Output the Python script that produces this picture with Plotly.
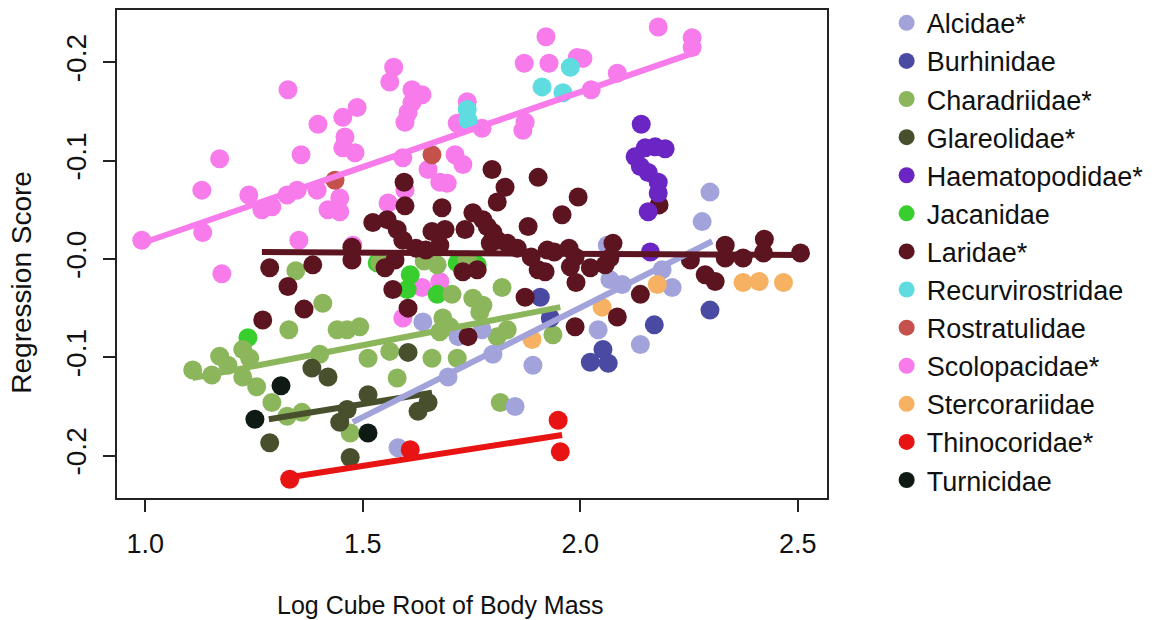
import plotly.graph_objects as go

# ---- data (x = log cube root of body mass, y = regression score) ----
families = ["Alcidae*", "Burhinidae", "Charadriidae*", "Glareolidae*", "Haematopodidae*",
            "Jacanidae", "Laridae*", "Recurvirostridae", "Rostratulidae", "Scolopacidae*",
            "Stercorariidae", "Thinocoridae*", "Turnicidae"]

colors = {
    "Alcidae*": "#A3A3DB", "Burhinidae": "#4A4AA3", "Charadriidae*": "#8CB65B",
    "Glareolidae*": "#474F2D", "Haematopodidae*": "#6B25C3", "Jacanidae": "#38CF2E",
    "Laridae*": "#5C1520", "Recurvirostridae": "#5FDCDF", "Rostratulidae": "#C4514C",
    "Scolopacidae*": "#F77BEB", "Stercorariidae": "#F7B163", "Thinocoridae*": "#E81414",
    "Turnicidae": "#0E1A13",
}

scolo_x = [0.992, 1.130, 1.171, 1.132, 1.176, 1.238, 1.268, 1.291, 1.326, 1.349, 1.395, 1.328,
           1.397, 1.358, 1.420, 1.447, 1.447, 1.353, 1.454, 1.459, 1.454, 1.482, 1.487, 1.477,
           1.558, 1.597, 1.921, 1.871, 1.928, 1.993, 1.571, 1.562, 1.613, 1.636, 1.613, 1.604,
           1.597, 1.740, 1.717, 1.774, 1.873, 1.868, 1.592, 1.712, 1.730, 1.650, 1.677, 1.694,
           2.179, 2.257, 2.257, 2.085, 2.025, 2.006, 1.636, 1.677, 1.592]
scolo_y = [0.019, 0.070, 0.102, 0.027, -0.015, 0.065, 0.050, 0.053, 0.065, 0.070, 0.070, 0.172,
           0.137, 0.106, 0.050, 0.062, 0.048, 0.019, 0.144, 0.124, 0.113, 0.108, 0.154, 0.014,
           0.057, 0.070, 0.226, 0.199, 0.199, 0.205, 0.195, 0.180, 0.172, 0.167, 0.159, 0.149,
           0.139, 0.160, 0.138, 0.133, 0.139, 0.131, 0.103, 0.106, 0.096, 0.091, 0.078, 0.077,
           0.236, 0.225, 0.215, 0.189, 0.172, 0.204, -0.029, -0.023, -0.060]

recur_x = [1.740, 1.742, 1.977, 1.912, 1.960]
recur_y = [0.152, 0.141, 0.195, 0.175, 0.169]

rostr_x = [1.436, 1.659]
rostr_y = [0.080, 0.106]

jacan_x = [1.236, 1.533, 1.609, 1.602, 1.671, 1.717, 1.763]
jacan_y = [-0.080, -0.004, -0.016, -0.031, -0.036, -0.004, -0.006]

chara_x = [1.346, 1.408, 1.330, 1.441, 1.464, 1.224, 1.171, 1.109, 1.153, 1.190, 1.240, 1.224,
           1.256, 1.401, 1.291, 1.326, 1.360, 1.471, 1.539, 1.641, 1.671, 1.740, 1.820, 1.705,
           1.753, 1.776, 1.769, 1.684, 1.677, 1.700, 1.832, 1.809, 1.937, 1.493, 1.512, 1.562,
           1.659, 1.717, 1.579, 1.816]
chara_y = [-0.012, -0.045, -0.072, -0.072, -0.072, -0.092, -0.099, -0.113, -0.118, -0.108, -0.101,
           -0.120, -0.130, -0.097, -0.146, -0.160, -0.156, -0.177, -0.004, -0.002, -0.006, -0.001,
           -0.029, -0.036, -0.040, -0.047, -0.054, -0.060, -0.074, -0.069, -0.072, -0.079, -0.077,
           -0.069, -0.101, -0.094, -0.101, -0.101, -0.121, -0.146]

alcid_x = [1.638, 1.719, 1.774, 1.799, 1.696, 1.891, 1.850, 1.581, 2.068, 2.096, 2.188, 2.211,
           2.041, 2.138, 2.062, 2.298, 2.280]
alcid_y = [-0.064, -0.079, -0.072, -0.097, -0.120, -0.108, -0.150, -0.192, -0.021, -0.026, -0.011,
           -0.029, -0.072, -0.087, 0.014, 0.068, 0.038]

burhi_x = [1.908, 1.931, 2.298, 2.170, 2.052, 2.023, 2.064]
burhi_y = [-0.039, -0.060, -0.052, -0.067, -0.092, -0.105, -0.106]

sterc_x = [1.889, 2.050, 2.177, 2.374, 2.411, 2.467]
sterc_y = [-0.082, -0.049, -0.026, -0.024, -0.023, -0.024]

glare_x = [1.383, 1.420, 1.447, 1.286, 1.471, 1.604, 1.512, 1.650, 1.627, 1.464]
glare_y = [-0.111, -0.120, -0.166, -0.187, -0.202, -0.095, -0.138, -0.146, -0.155, -0.153]

turni_x = [1.312, 1.252, 1.512]
turni_y = [-0.129, -0.163, -0.177]

thino_x = [1.332, 1.609, 1.949, 1.954]
thino_y = [-0.224, -0.194, -0.164, -0.196]

larid_x = [1.270, 1.286, 1.328, 1.365, 1.385, 1.475, 1.475, 1.523, 1.556, 1.579, 1.592, 1.595,
           1.597, 1.622, 1.551, 1.569, 1.574, 1.604, 1.645, 1.659, 1.677, 1.682, 1.689, 1.730,
           1.735, 1.742, 1.753, 1.763, 1.776, 1.786, 1.793, 1.797, 1.799, 1.809, 1.809, 1.827,
           1.832, 1.855, 1.873, 1.880, 1.887, 1.903, 1.903, 1.919, 1.924, 1.940, 1.958, 1.974,
           1.977, 1.988, 1.990, 1.988, 1.995, 2.023, 2.057, 2.068, 2.075, 2.085, 2.138, 2.181,
           2.253, 2.287, 2.310, 2.333, 2.333, 2.374, 2.421, 2.423, 2.506]
larid_y = [-0.062, -0.009, -0.028, -0.051, -0.006, -0.001, 0.012, 0.037, 0.040, 0.030, 0.019, 0.078,
           0.054, 0.011, -0.009, -0.031, -0.001, -0.050, 0.009, 0.028, 0.014, 0.052, 0.030, -0.013,
           0.030, -0.079, 0.047, -0.011, 0.040, 0.033, 0.016, 0.091, 0.027, 0.058, 0.019, 0.073,
           0.016, 0.011, -0.039, 0.033, 0.002, 0.083, -0.011, -0.013, 0.009, 0.007, 0.045, 0.011,
           -0.008, 0.002, -0.024, -0.069, 0.063, -0.009, -0.006, 0.001, 0.016, -0.059, -0.036, 0.055,
           -0.001, -0.016, -0.023, 0.001, 0.014, 0.001, 0.006, 0.020, 0.006]

haema_x = [2.140, 2.195, 2.172, 2.149, 2.126, 2.138, 2.156, 2.179, 2.179, 2.156, 2.161]
haema_y = [0.137, 0.112, 0.114, 0.113, 0.104, 0.094, 0.088, 0.078, 0.067, 0.048, 0.007]

# regression line end points (x_start, x_end), (y_start, y_end)
fit_lines = {
    "Scolopacidae*": ([0.992, 2.257], [0.016, 0.209]),
    "Charadriidae*": ([1.109, 1.954], [-0.121, -0.049]),
    "Glareolidae*": ([1.284, 1.659], [-0.163, -0.136]),
    "Alcidae*": ([1.477, 2.303], [-0.166, 0.018]),
    "Thinocoridae*": ([1.332, 1.958], [-0.222, -0.179]),
    "Laridae*": ([1.268, 2.506], [0.007, 0.004]),
}

x_tick_vals = [1.0, 1.5, 2.0, 2.5]
x_tick_text = ["1.0", "1.5", "2.0", "2.5"]
y_tick_vals = [0.2, 0.1, 0.0, -0.1, -0.2]
y_tick_text = ["-0.2", "-0.1", "-0.0", "-0.1", "-0.2"]

# drawing order (bottom to top)
series = [
    ("Scolopacidae*", scolo_x, scolo_y),
    ("Recurvirostridae", recur_x, recur_y),
    ("Rostratulidae", rostr_x, rostr_y),
    ("Jacanidae", jacan_x, jacan_y),
    ("Charadriidae*", chara_x, chara_y),
    ("Alcidae*", alcid_x, alcid_y),
    ("Burhinidae", burhi_x, burhi_y),
    ("Stercorariidae", sterc_x, sterc_y),
    ("Glareolidae*", glare_x, glare_y),
    ("Turnicidae", turni_x, turni_y),
    ("Thinocoridae*", thino_x, thino_y),
    ("Laridae*", larid_x, larid_y),
    ("Haematopodidae*", haema_x, haema_y),
]

FONT = "Liberation Sans, Arial, sans-serif"

fig = go.Figure()
for name, xs, ys in series:
    fig.add_trace(go.Scatter(
        x=xs, y=ys, mode="markers", name=name,
        legendrank=families.index(name) + 1,
        marker=dict(size=19, color=colors[name], line=dict(width=0)),
    ))

for name, (lx, ly) in fit_lines.items():
    fig.add_trace(go.Scatter(
        x=lx, y=ly, mode="lines", showlegend=False, hoverinfo="skip",
        line=dict(color=colors[name], width=6),
    ))

axis_common = dict(
    showgrid=False, zeroline=False, showline=True, mirror=True,
    linecolor="#222222", linewidth=1.5, ticks="outside", ticklen=12,
    tickwidth=1.5, tickcolor="#222222", automargin=False,
)

fig.update_layout(
    width=1159, height=620,
    margin=dict(l=117, r=332, t=10, b=122, autoexpand=False),
    paper_bgcolor="white", plot_bgcolor="white",
    xaxis=dict(range=[0.935, 2.567], tickvals=x_tick_vals, ticktext=x_tick_text,
               ticklabelstandoff=9,
               tickfont=dict(family=FONT, size=27, color="#111111"), **axis_common),
    yaxis=dict(range=[-0.2431, 0.2532], tickvals=y_tick_vals, ticktext=y_tick_text,
               tickangle=-90, ticklabelstandoff=6,
               tickfont=dict(family=FONT, size=28, color="#111111"), **axis_common),
    legend=dict(x=1.084, y=1.023, xanchor="left", yanchor="top", maxheight=640,
                font=dict(family=FONT, size=27, color="#111111"),
                bgcolor="rgba(0,0,0,0)", tracegroupgap=0),
    showlegend=True,
    annotations=[
        dict(text="Log Cube Root of Body Mass", xref="paper", yref="paper",
             x=0.455, y=-0.219, xanchor="center", yanchor="middle", showarrow=False,
             font=dict(family=FONT, size=25, color="#111111")),
        dict(text="Regression Score", xref="paper", yref="paper",
             x=-0.134, y=0.443, xanchor="center", yanchor="middle", showarrow=False,
             textangle=-90, font=dict(family=FONT, size=28, color="#111111")),
    ],
)

fig.write_html("out.html")
